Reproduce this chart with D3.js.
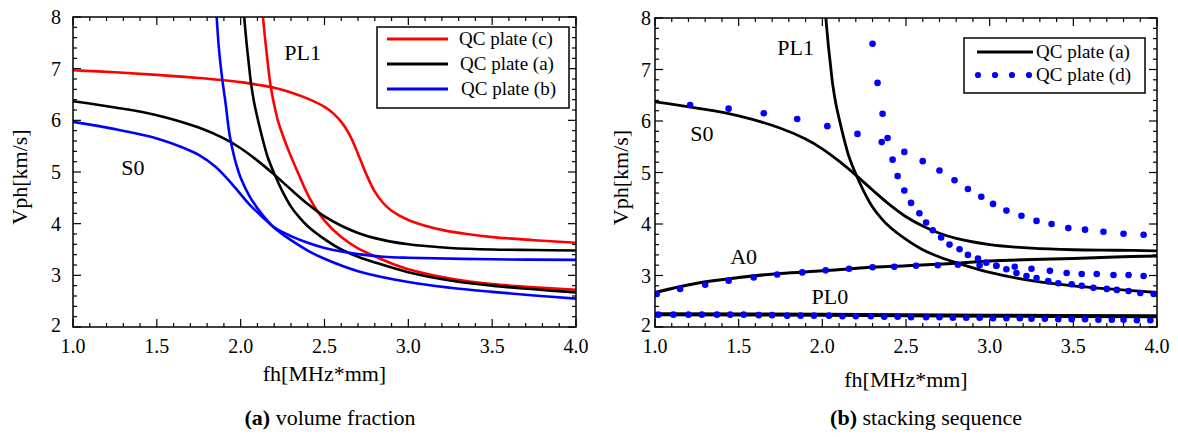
<!DOCTYPE html>
<html><head><meta charset="utf-8">
<script src="https://cdn.jsdelivr.net/npm/d3@7"></script>
<style>body{margin:0;background:#fff}svg text{font-family:"Liberation Serif","Times New Roman",Times,serif}</style>
</head><body>
<svg id="c" width="1178" height="437" font-family="Liberation Serif, Times New Roman, serif"></svg>
<script>
const xTickLabels=["1.0","1.5","2.0","2.5","3.0","3.5","4.0"];
const yTickLabels=["2","3","4","5","6","7","8"];

// Panel (a): volume fraction
const plateC_S0=[[1.0,6.97],[1.25,6.93],[1.5,6.88],[1.75,6.82],[2.0,6.74],[2.1,6.69],[2.2,6.63],[2.3,6.54],[2.4,6.42],[2.5,6.26],[2.55,6.14],[2.6,5.97],[2.65,5.72],[2.7,5.35],[2.75,4.95],[2.8,4.62],[2.85,4.40],[2.9,4.25],[3.0,4.07],[3.1,3.96],[3.2,3.88],[3.35,3.80],[3.5,3.74],[3.75,3.68],[4.0,3.63]];
const plateC_PL1=[[2.133,8.0],[2.145,7.6],[2.16,7.15],[2.178,6.68],[2.2,6.3],[2.22,6.02],[2.25,5.72],[2.29,5.38],[2.34,5.0],[2.41,4.5],[2.5,4.06],[2.6,3.74],[2.7,3.52],[2.8,3.37],[2.9,3.23],[3.0,3.12],[3.25,2.94],[3.5,2.83],[3.75,2.77],[4.0,2.72]];
const plateA_S0=[[1.0,6.37],[1.25,6.25],[1.5,6.1],[1.75,5.86],[1.9,5.65],[2.0,5.46],[2.1,5.22],[2.2,4.95],[2.3,4.66],[2.4,4.38],[2.5,4.14],[2.6,3.96],[2.7,3.82],[2.8,3.72],[3.0,3.6],[3.25,3.53],[3.5,3.5],[3.75,3.49],[4.0,3.48]];
const plateA_PL1=[[2.021,8.0],[2.035,7.5],[2.05,7.05],[2.062,6.71],[2.08,6.35],[2.1,6.05],[2.13,5.65],[2.16,5.3],[2.2,4.97],[2.25,4.62],[2.3,4.33],[2.35,4.12],[2.4,3.95],[2.5,3.7],[2.6,3.5],[2.7,3.36],[2.8,3.25],[3.0,3.06],[3.25,2.9],[3.5,2.8],[3.75,2.73],[4.0,2.67]];
const plateB_S0=[[1.0,5.97],[1.25,5.83],[1.5,5.65],[1.65,5.48],[1.75,5.33],[1.85,5.1],[1.95,4.76],[2.05,4.38],[2.13,4.13],[2.2,3.93],[2.3,3.76],[2.4,3.63],[2.5,3.53],[2.6,3.46],[2.7,3.41],[2.85,3.36],[3.0,3.34],[3.5,3.31],[4.0,3.30]];
const plateB_PL1=[[1.857,8.0],[1.87,7.4],[1.89,6.8],[1.908,6.38],[1.935,5.7],[1.965,5.25],[2.0,4.89],[2.055,4.52],[2.13,4.17],[2.2,3.92],[2.3,3.68],[2.4,3.48],[2.5,3.32],[2.7,3.08],[3.0,2.87],[3.25,2.76],[3.5,2.68],[3.75,2.61],[4.0,2.55]];

// Panel (b): stacking sequence
const plateA_A0=[[1.0,2.67],[1.25,2.85],[1.5,2.96],[1.75,3.04],[2.0,3.09],[2.25,3.15],[2.5,3.19],[2.75,3.23],[3.0,3.28],[3.25,3.31],[3.5,3.33],[3.75,3.36],[4.0,3.38]];
const plateA_PL0=[[1.0,2.25],[2.0,2.24],[3.0,2.22],[4.0,2.21]];
const plateD_S0=[[1.21,6.31],[1.44,6.24],[1.65,6.15],[1.85,6.04],[2.03,5.90],[2.21,5.75],[2.39,5.67],[2.49,5.40],[2.60,5.22],[2.70,5.04],[2.79,4.85],[2.87,4.68],[2.95,4.53],[3.02,4.39],[3.10,4.26],[3.19,4.16],[3.28,4.06],[3.37,4.00],[3.47,3.92],[3.57,3.89],[3.68,3.85],[3.80,3.81],[3.92,3.79]];
const plateD_PL1=[[2.30,7.50],[2.33,6.74],[2.36,6.14],[2.355,5.59],[2.42,5.25],[2.45,4.93],[2.49,4.65],[2.53,4.41],[2.58,4.21],[2.62,4.03],[2.66,3.88],[2.71,3.74],[2.76,3.60],[2.82,3.51],[2.87,3.40],[2.93,3.33],[2.98,3.25],[3.04,3.19],[3.10,3.12],[3.16,3.05],[3.22,2.99],[3.28,2.95],[3.35,2.89],[3.41,2.85],[3.49,2.83],[3.55,2.80],[3.62,2.76],[3.70,2.74],[3.76,2.72],[3.83,2.70],[3.90,2.66],[3.98,2.64]];
const plateD_A0=[[1.01,2.64],[1.15,2.74],[1.30,2.82],[1.44,2.90],[1.59,2.96],[1.73,3.02],[1.88,3.06],[2.02,3.10],[2.16,3.13],[2.30,3.16],[2.43,3.17],[2.56,3.19],[2.69,3.20],[2.81,3.21],[2.94,3.20],[3.04,3.19],[3.15,3.17],[3.25,3.13],[3.36,3.09],[3.46,3.05],[3.55,3.03],[3.64,3.03],[3.74,3.01],[3.83,3.01],[3.92,2.99]];
const plateD_PL0=[[1.02,2.24],[1.11,2.24],[1.20,2.24],[1.28,2.24],[1.37,2.24],[1.45,2.24],[1.53,2.24],[1.62,2.23],[1.70,2.23],[1.79,2.22],[1.87,2.22],[1.95,2.22],[2.04,2.22],[2.12,2.21],[2.20,2.21],[2.29,2.21],[2.37,2.20],[2.45,2.20],[2.53,2.19],[2.62,2.19],[2.70,2.19],[2.78,2.18],[2.86,2.18],[2.94,2.18],[3.02,2.17],[3.10,2.17],[3.18,2.17],[3.25,2.16],[3.33,2.16],[3.41,2.15],[3.49,2.15],[3.57,2.15],[3.65,2.14],[3.73,2.14],[3.80,2.14],[3.88,2.13],[3.96,2.13]];

const legendA=["QC plate (c)","QC plate (a)","QC plate (b)"];
const legendB=["QC plate (a)","QC plate (d)"];

const RED="#ff0000", BLUE="#0000ff", BLACK="#000000";
const svg=d3.select("#c");

function panel(cfg){
  const x=d3.scaleLinear().domain([1,4]).range([cfg.x0,cfg.x1]);
  const y=d3.scaleLinear().domain([2,8]).range([cfg.y1,cfg.y0]);
  const g=svg.append("g");
  const clipId="clip"+cfg.id;
  svg.append("clipPath").attr("id",clipId).append("rect")
    .attr("x",cfg.x0).attr("y",cfg.y0).attr("width",cfg.x1-cfg.x0).attr("height",cfg.y1-cfg.y0);
  const xMajor=xTickLabels.map(Number), yMajor=yTickLabels.map(Number);
  const xMinor=d3.range(10,41).map(d=>d/10).filter(v=>!xMajor.some(m=>Math.abs(m-v)<1e-6));
  const yMinor=d3.range(10,41).map(d=>d/5).filter(v=>!yMajor.some(m=>Math.abs(m-v)<1e-6));
  const tk=g.append("g").attr("stroke","#000").attr("stroke-width",1.2);
  const drawX=(vals,len)=>vals.forEach(v=>{
    tk.append("line").attr("x1",x(v)).attr("x2",x(v)).attr("y1",cfg.y1).attr("y2",cfg.y1-len);
    tk.append("line").attr("x1",x(v)).attr("x2",x(v)).attr("y1",cfg.y0).attr("y2",cfg.y0+len);
  });
  const drawY=(vals,len)=>vals.forEach(v=>{
    tk.append("line").attr("y1",y(v)).attr("y2",y(v)).attr("x1",cfg.x0).attr("x2",cfg.x0+len);
    tk.append("line").attr("y1",y(v)).attr("y2",y(v)).attr("x1",cfg.x1).attr("x2",cfg.x1-len);
  });
  drawX(xMajor,8); drawX(xMinor,4); drawY(yMajor,8); drawY(yMinor,4);
  g.append("g").selectAll("text").data(xTickLabels).join("text")
    .attr("x",d=>x(+d)).attr("y",353).attr("text-anchor","middle").attr("font-size",20).text(d=>d);
  g.append("g").selectAll("text").data(yTickLabels).join("text")
    .attr("x",cfg.ylabX).attr("y",d=>y(+d)+(+d===2?5:7)).attr("text-anchor","end").attr("font-size",20).text(d=>d);
  g.append("text").attr("x",(cfg.x0+cfg.x1)/2).attr("y",cfg.xtY).attr("text-anchor","middle").attr("font-size",22).text("fh[MHz*mm]");
  g.append("text").attr("transform",`translate(${cfg.ytX},${(cfg.y0+cfg.y1)/2+5}) rotate(-90)`).attr("text-anchor","middle").attr("font-size",22).text("Vph[km/s]");
  const cap=g.append("text").attr("x",cfg.capX).attr("y",425).attr("text-anchor","middle").attr("font-size",22);
  cap.append("tspan").attr("font-weight","bold").text(cfg.capB);
  cap.append("tspan").text(" "+cfg.capT);
  const plot=g.append("g").attr("clip-path",`url(#${clipId})`);
  const line=d3.line().x(d=>x(d[0])).y(d=>y(d[1])).curve(d3.curveCatmullRom.alpha(0.5));
  return {x,y,g,plot,line};
}

// ---- panel a
const A=panel({id:"a",x0:73,x1:576,y0:17,y1:327,ylabX:61,xtY:381,ytX:27,capX:330,capB:"(a)",capT:"volume fraction"});
[[plateC_S0,RED],[plateC_PL1,RED],[plateA_S0,BLACK],[plateA_PL1,BLACK],[plateB_S0,BLUE],[plateB_PL1,BLUE]].forEach(([d,c])=>{
  A.plot.append("path").attr("d",A.line(d)).attr("fill","none").attr("stroke",c).attr("stroke-width",2.6);
});
A.g.append("text").attr("x",A.x(2.37)).attr("y",A.y(7.31)+7).attr("text-anchor","middle").attr("font-size",22).text("PL1");
A.g.append("text").attr("x",A.x(1.357)).attr("y",A.y(5.07)+7).attr("text-anchor","middle").attr("font-size",22).text("S0");
A.g.append("rect").attr("x",377).attr("y",27).attr("width",192).attr("height",81).attr("fill","#fff").attr("stroke","#000").attr("stroke-width",1.5);
const legColA=[RED,BLACK,BLUE];
legendA.forEach((t,i)=>{
  const yy=39+i*25;
  A.g.append("line").attr("x1",387).attr("x2",448).attr("y1",yy).attr("y2",yy).attr("stroke",legColA[i]).attr("stroke-width",2.8);
  A.g.append("text").attr("x",459+i).attr("y",yy+6).attr("font-size",19).text(t);
});
A.g.append("rect").attr("x",73).attr("y",17).attr("width",503).attr("height",310).attr("fill","none").attr("stroke","#000").attr("stroke-width",1.5);

// ---- panel b
const B=panel({id:"b",x0:655,x1:1157,y0:18,y1:327,ylabX:651,xtY:387,ytX:628,capX:926,capB:"(b)",capT:"stacking sequence"});
[[plateA_S0,2.8],[plateA_PL1,2.8],[plateA_A0,3],[plateA_PL0,4]].forEach(([d,w])=>{
  B.plot.append("path").attr("d",B.line(d)).attr("fill","none").attr("stroke",BLACK).attr("stroke-width",w);
});
[plateD_S0,plateD_PL1,plateD_A0,plateD_PL0].forEach(d=>{
  B.plot.append("g").selectAll("circle").data(d).join("circle")
    .attr("cx",p=>B.x(p[0])).attr("cy",p=>B.y(p[1])).attr("r",3.3).attr("fill",BLUE);
});
B.g.append("text").attr("x",B.x(1.84)).attr("y",B.y(7.41)+7).attr("text-anchor","middle").attr("font-size",22).text("PL1");
B.g.append("text").attr("x",B.x(1.28)).attr("y",B.y(5.75)+7).attr("text-anchor","middle").attr("font-size",22).text("S0");
B.g.append("text").attr("x",B.x(1.53)).attr("y",B.y(3.35)+7).attr("text-anchor","middle").attr("font-size",22).text("A0");
B.g.append("text").attr("x",B.x(2.045)).attr("y",B.y(2.58)+7).attr("text-anchor","middle").attr("font-size",22).text("PL0");
B.g.append("rect").attr("x",964).attr("y",38).attr("width",181).attr("height",55).attr("fill","#fff").attr("stroke","#000").attr("stroke-width",1.5);
B.g.append("line").attr("x1",977).attr("x2",1033).attr("y1",52).attr("y2",52).attr("stroke",BLACK).attr("stroke-width",2.8);
B.g.append("g").selectAll("circle").data([978,995,1012,1029]).join("circle")
  .attr("cx",d=>d).attr("cy",75).attr("r",3.1).attr("fill",BLUE);
legendB.forEach((t,i)=>{
  B.g.append("text").attr("x",1036).attr("y",58+i*23).attr("font-size",19).text(t);
});
B.g.append("rect").attr("x",655).attr("y",18).attr("width",502).attr("height",309).attr("fill","none").attr("stroke","#000").attr("stroke-width",1.5);
</script>
</body></html>
